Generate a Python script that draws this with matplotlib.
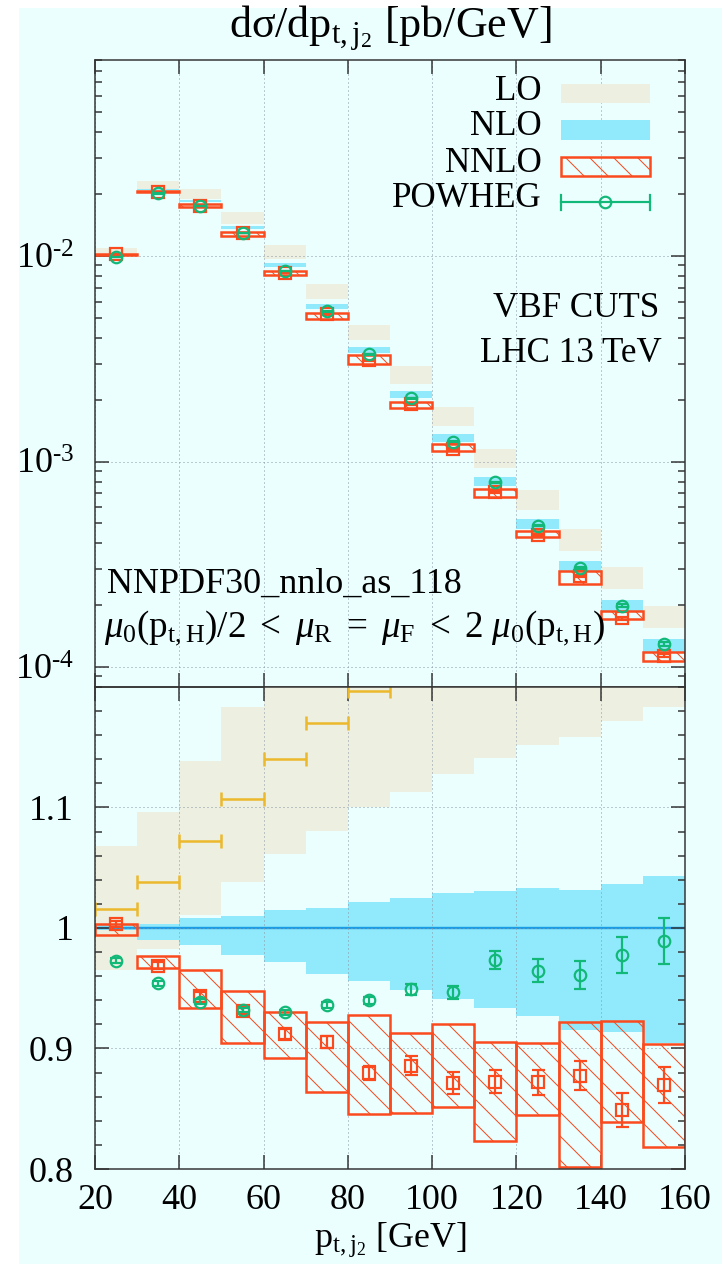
import numpy as np
import matplotlib
matplotlib.use("Agg")
import matplotlib.pyplot as plt
from matplotlib.patches import Rectangle
from matplotlib.ticker import MultipleLocator, LogLocator, NullFormatter

# ---------------- data ----------------
bin_lo = [20, 30, 40, 50, 60, 70, 80, 90, 100, 110, 120, 130, 140, 150]
bin_hi = [30, 40, 50, 60, 70, 80, 90, 100, 110, 120, 130, 140, 150, 160]

# NLO central value [pb/GeV]
nlo_central = [0.01020, 0.02115, 0.01865, 0.01388, 0.00912, 0.00575, 0.00354,
               0.002146, 0.001319, 0.000814, 0.000506, 0.000317, 0.0002036, 0.0001308]

# bands, as ratio to NLO central
lo_ratio_low = [0.9654, 0.9826, 1.011, 1.038, 1.0614, 1.0808, 1.1006,
                1.1126, 1.128, 1.141, 1.152, 1.1585, 1.1718, 1.183]
lo_ratio_high = [1.068, 1.0965, 1.139, 1.1836, 1.245, 1.271, 1.309,
                 1.362, 1.39, 1.41, 1.44, 1.48, 1.50, 1.51]
lo_central_ratio = [1.0158, 1.038, 1.0725, 1.107, 1.140, 1.170, 1.197,
                    np.nan, np.nan, np.nan, np.nan, np.nan, np.nan, np.nan]

nlo_ratio_low = [0.9986, 0.9903, 0.9856, 0.9779, 0.9715, 0.9618, 0.9563,
                 0.9488, 0.941, 0.934, 0.9267, 0.9154, 0.9134, 0.9046]
nlo_ratio_high = [1.0027, 1.0033, 1.008, 1.0100, 1.015, 1.017, 1.0218,
                  1.0249, 1.029, 1.0307, 1.0335, 1.0313, 1.0365, 1.0432]

nnlo_ratio_low = [0.9942, 0.9666, 0.9334, 0.9046, 0.8919, 0.8641, 0.8456,
                  0.8465, 0.8517, 0.823, 0.845, 0.8014, 0.8393, 0.8183]
nnlo_ratio_high = [1.0033, 0.9765, 0.9649, 0.948, 0.930, 0.9222, 0.9278,
                   0.9129, 0.920, 0.9057, 0.9043, 0.9222, 0.9228, 0.9037]
nnlo_central_ratio = [1.003, 0.9687, 0.9438, 0.9314, 0.912, 0.9057, 0.8797,
                      0.8857, 0.8711, 0.8725, 0.872, 0.8774, 0.8492, 0.8697]
nnlo_err_ratio = [0.0025, 0.003, 0.003, 0.003, 0.004, 0.005, 0.006,
                  0.0079, 0.0091, 0.0097, 0.0104, 0.0122, 0.014, 0.0148]

powheg_ratio = [0.9729, 0.954, 0.939, 0.932, 0.930, 0.936, 0.940,
                0.949, 0.9466, 0.9734, 0.9646, 0.961, 0.9776, 0.989]
powheg_err_ratio = [0.002, 0.002, 0.002, 0.002, 0.002, 0.0025, 0.003,
                    0.0045, 0.0052, 0.0072, 0.0094, 0.012, 0.0148, 0.019]

x_ticks = [20, 40, 60, 80, 100, 120, 140, 160]
x_tick_labels = ['20', '40', '60', '80', '100', '120', '140', '160']
top_ticks = [1e-4, 1e-3, 1e-2]
top_tick_labels = [r'$10^{\text{-}4}$', r'$10^{\text{-}3}$', r'$10^{\text{-}2}$']
ratio_ticks = [0.8, 0.9, 1.0, 1.1]
ratio_tick_labels = ['0.8', '0.9', '1', '1.1']

legend_labels = ['LO', 'NLO', 'NNLO', 'POWHEG']

# ---------------- style ----------------
BG = '#ebffff'
LO_C = '#edf0e0'
NLO_C = '#90eafc'
NLO_LINE = '#1a9de4'
RED = '#fa4a1e'
GREEN = '#12b878'
GOLD = '#ecb82c'
GRID = '#8896a6'
AXC = '#333333'

plt.rcParams['font.family'] = ['Liberation Serif', 'DejaVu Serif']
plt.rcParams['mathtext.fontset'] = 'custom'
plt.rcParams['mathtext.rm'] = 'Liberation Serif'
plt.rcParams['mathtext.it'] = 'Liberation Serif:italic'
plt.rcParams['mathtext.bf'] = 'Liberation Serif:bold'
plt.rcParams['hatch.linewidth'] = 1.0

FS = 36

# ---------------- derived arrays ----------------
lo_ = np.array(bin_lo, float)
hi_ = np.array(bin_hi, float)
centers = (lo_ + hi_) / 2
widths = hi_ - lo_
edges = list(bin_lo) + [bin_hi[-1]]
nc = np.array(nlo_central)

DPI = 72
W, H = 724, 1264
fig = plt.figure(figsize=(W / DPI, H / DPI), dpi=DPI, facecolor='white')
fig.add_artist(Rectangle((19 / W, 0), (722 - 19) / W, (H - 8) / H,
                         transform=fig.transFigure, facecolor=BG,
                         edgecolor='none', zorder=-10))

ax_top = fig.add_axes([95 / W, (H - 687) / H, 590 / W, 627 / H])
ax_bot = fig.add_axes([95 / W, (H - 1169) / H, 590 / W, 482 / H])


def draw_panel(ax, scale):
    s = np.asarray(scale)
    ax.bar(centers, s * (np.array(lo_ratio_high) - np.array(lo_ratio_low)),
           bottom=s * np.array(lo_ratio_low), width=widths, color=LO_C,
           linewidth=0, zorder=1)
    ax.bar(centers, s * (np.array(nlo_ratio_high) - np.array(nlo_ratio_low)),
           bottom=s * np.array(nlo_ratio_low), width=widths, color=NLO_C,
           linewidth=0, zorder=1.1)
    ax.bar(centers, s * (np.array(nnlo_ratio_high) - np.array(nnlo_ratio_low)),
           bottom=s * np.array(nnlo_ratio_low), width=widths, fill=False,
           edgecolor=RED, hatch='\\', linewidth=2.5, zorder=3)
    ax.errorbar(centers, s * np.array(nnlo_central_ratio),
                yerr=s * np.array(nnlo_err_ratio), fmt='s', ms=12,
                mfc='none', mec=RED, mew=2.2, ecolor=RED, elinewidth=2.2,
                capsize=6.5, capthick=2.2, zorder=4)
    ax.errorbar(centers, s * np.array(powheg_ratio),
                yerr=s * np.array(powheg_err_ratio), fmt='o', ms=11.5,
                mfc='none', mec=GREEN, mew=2.2, ecolor=GREEN, elinewidth=2.2,
                capsize=6, capthick=2.2, zorder=5)


# ---- top panel ----
draw_panel(ax_top, nc)
ax_top.set_yscale('log')
ax_top.set_ylim(8e-5, 0.09)
ax_top.set_yticks(top_ticks)
ax_top.set_yticklabels(top_tick_labels)
ax_top.yaxis.set_minor_locator(LogLocator(base=10, subs=np.arange(2, 10)))
ax_top.yaxis.set_minor_formatter(NullFormatter())

# ---- bottom panel ----
draw_panel(ax_bot, np.ones(len(nc)))
ax_bot.stairs(nc / nc, edges, baseline=None, color=NLO_LINE, linewidth=2.4,
              zorder=2)
ax_bot.errorbar(centers, lo_central_ratio, xerr=widths / 2, fmt='none',
                ecolor=GOLD, elinewidth=2.5, capsize=7, capthick=2.5, zorder=4)
ax_bot.set_ylim(0.8, 1.2)
ax_bot.set_yticks(ratio_ticks)
ax_bot.set_yticklabels(ratio_tick_labels)
ax_bot.yaxis.set_minor_locator(MultipleLocator(0.02))
ax_bot.set_xticks(x_ticks)
ax_bot.set_xticklabels(x_tick_labels)

for ax in (ax_top, ax_bot):
    ax.set_facecolor('none')
    ax.set_xlim(20, 160)
    ax.set_xticks(x_ticks)
    ax.set_axisbelow(False)
    ax.grid(True, which='major', color=GRID, linestyle=(0, (1, 3)),
            linewidth=1.0)
    ax.tick_params(which='both', direction='in', top=True, right=True,
                   width=1.5, color=AXC, labelsize=FS)
    ax.tick_params(which='major', length=14)
    ax.tick_params(which='minor', length=7)
    ax.tick_params(axis='y', pad=21)
    ax.tick_params(axis='x', pad=15)
    for sp in ax.spines.values():
        sp.set_linewidth(1.5)
        sp.set_color(AXC)
        sp.set_zorder(6)

ax_top.tick_params(labelbottom=False)

# ---- texts ----
fig.text(390 / W, (H - 38) / H, r'dσ/dp$_{\mathrm{t,j}_2}$ [pb/GeV]',
         ha='center', va='baseline', fontsize=44)
fig.text(390 / W, (H - 1247) / H, r'$\mathrm{p}_{\mathrm{t,j}_2}$ [GeV]',
         ha='center', va='baseline', fontsize=FS)

T = ax_top.transAxes
ax_top.text(0.956, 0.590, 'VBF CUTS', ha='right', va='baseline',
            transform=T, fontsize=35)
ax_top.text(0.961, 0.518, 'LHC 13 TeV', ha='right', va='baseline',
            transform=T, fontsize=35)
ax_top.text(0.02, 0.150, 'NNPDF30_nnlo_as_118', ha='left', va='baseline',
            transform=T, fontsize=36)
ax_top.text(0.015, 0.080,
            r'$\mu_0(\mathrm{p}_{\mathrm{t,H}})/2\ <\ \mu_\mathrm{R}\ =\ \mu_\mathrm{F}\ <\ 2\ \mu_0(\mathrm{p}_{\mathrm{t,H}})$',
            ha='left', va='baseline', transform=T, fontsize=37)

# ---- legend (drawn manually) ----
lx0, lx1 = 0.7898, 0.9407
baselines = [0.936, 0.880, 0.822, 0.766]
for lab, yb in zip(legend_labels, baselines):
    ax_top.text(0.757, yb, lab, ha='right', va='baseline', transform=T,
                fontsize=35, zorder=7)
ax_top.add_patch(Rectangle((lx0, 0.931), lx1 - lx0, 0.0307, transform=T,
                           facecolor=LO_C, edgecolor='none', zorder=7))
ax_top.add_patch(Rectangle((lx0, 0.8724), lx1 - lx0, 0.0319, transform=T,
                           facecolor=NLO_C, edgecolor='none', zorder=7))
ax_top.add_patch(Rectangle((lx0, 0.8155), lx1 - lx0, 0.0293, transform=T,
                           fill=False, edgecolor=RED, hatch='\\',
                           linewidth=2.5, zorder=7))
py = 0.7731
ax_top.plot([lx0, lx1], [py, py], color=GREEN, lw=2.2, transform=T, zorder=7)
for xx in (lx0, lx1):
    ax_top.plot([xx, xx], [py - 0.012, py + 0.012], color=GREEN, lw=2.2,
                transform=T, zorder=7)
ax_top.plot([(lx0 + lx1) / 2], [py], 'o', ms=11.5, mfc='none', mec=GREEN,
            mew=2.2, transform=T, zorder=8)

fig.savefig('out.png', dpi=DPI, facecolor='white')
